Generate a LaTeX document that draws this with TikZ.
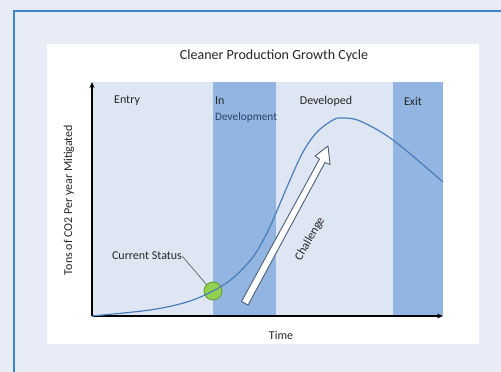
\documentclass[tikz,border=0pt]{standalone}
\usepackage{fontspec}
\setmainfont{Carlito}
\usetikzlibrary{arrows.meta}
\definecolor{outerbg}{HTML}{E8ECF6}
\definecolor{frameblue}{HTML}{3D85CF}
\definecolor{lightband}{HTML}{DDE6F2}
\definecolor{darkband}{HTML}{93B5E2}
\definecolor{curveblue}{HTML}{4A7EBB}
\definecolor{txt}{HTML}{262626}
\definecolor{devtxt}{HTML}{2A4468}
\definecolor{okgreen}{HTML}{92D050}
\definecolor{okgreendark}{HTML}{6A9F3A}
\definecolor{arrowline}{HTML}{4C5E78}
\tikzset{
  lbl/.style={font=\fontsize{12}{14}\selectfont, text=txt, inner sep=0pt},
  smalllbl/.style={font=\fontsize{11.3}{13}\selectfont, text=devtxt, inner sep=0pt},
  axis/.style={line width=1.2pt, black, -{Stealth[length=6pt,width=5pt]}},
}
\begin{document}
\begin{tikzpicture}[x=1pt,y=-1pt]
\useasboundingbox (0,0) rectangle (501,372);
\fill[outerbg] (0,0) rectangle (501,372);
\draw[frameblue, line width=1.5pt] (14,372) -- (14,11) -- (501,11);
\fill[white] (47,44) rectangle (479,344);
% bands
\fill[lightband] (92,82) rectangle (213,316);
\fill[darkband] (213,82) rectangle (276,316);
\fill[lightband] (276,82) rectangle (393,316);
\fill[darkband] (393,82) rectangle (443,316);
% title and labels
\node[lbl, font=\fontsize{14}{16}\selectfont] (title) at (274,56) {Cleaner Production Growth Cycle};
\node[lbl, anchor=west] (entry) at (114,101) {Entry};
\node[lbl, anchor=west] (in) at (215,101) {In};
\node[smalllbl, anchor=west] (dev) at (215,117) {Development};
\node[lbl] (developed) at (326,101) {Developed};
\node[lbl] (exit) at (413,101) {Exit};
\node[lbl] (time) at (281,335) {Time};
\node[lbl, rotate=90] (ylab) at (69,200) {Tons of CO2 Per year Mitigated};
\node[lbl] (status) at (147,256) {Current Status};
% axes
\coordinate (origin) at (92,316);
\coordinate (xend) at (443,316);
\coordinate (yend) at (92,82);
\draw[axis] (origin) -- (xend);
\draw[axis] (origin) -- (yend);
% challenge arrow
\coordinate (a1) at (248.1,305.0);
\coordinate (a2) at (325.0,162.5);
\coordinate (a3) at (330.0,164.5);
\coordinate (tip) at (328,146);
\coordinate (a5) at (315.0,156.0);
\coordinate (a6) at (319.5,159.0);
\coordinate (a7) at (241.5,301.5);
\draw[arrowline, fill=white, line width=0.9pt, line join=round] (a1) -- (a2) -- (a3) -- (tip) -- (a5) -- (a6) -- (a7) -- cycle;
\node[lbl, rotate=60] (challenge) at (310,239) {Challenge};
% status marker
\node[circle, fill=okgreen, draw=okgreendark, line width=0.9pt, minimum size=18pt, inner sep=0pt] (now) at (213,291) {};
\draw[curveblue, line width=1.2pt] plot[smooth, tension=0.55] coordinates {
 (92,316) (150,310) (187,302) (213,291) (233,278) (253,257) (267,233) (276,213) (290,180) (303,152) (317,132) (333,120) (342,118) (360,121) (393,140) (443,182)};
\draw[txt!80, line width=0.6pt] (status.east) -- (now.north west);
\end{tikzpicture}
\end{document}
